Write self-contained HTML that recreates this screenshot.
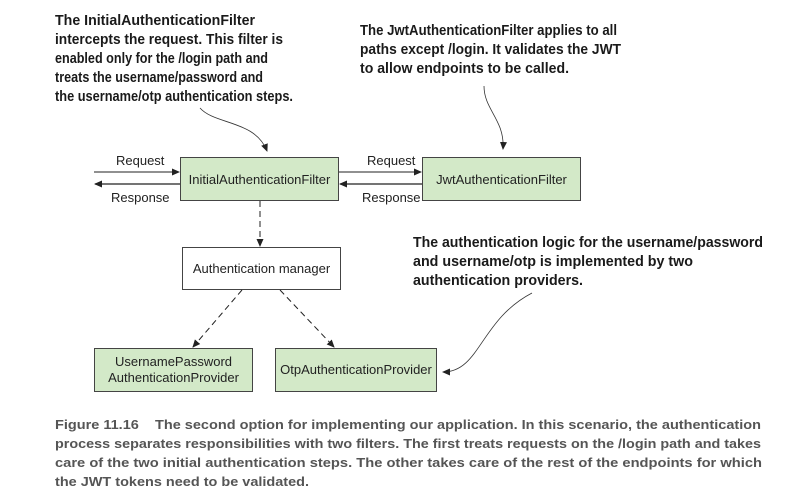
<!DOCTYPE html>
<html><head><meta charset="utf-8"><style>
html,body{margin:0;padding:0;background:#fff}
svg{display:block}
.a{font-family:"Liberation Sans Narrow","Liberation Sans",sans-serif;font-weight:bold;font-size:14.5px;fill:#1a1a1a}
.c{font-family:"Liberation Sans",sans-serif;font-weight:bold;font-size:13px;fill:#555}
.n{font-family:"Liberation Sans",sans-serif;font-size:13px;fill:#222}
</style></head><body>
<svg width="809" height="497" viewBox="0 0 809 497" xmlns="http://www.w3.org/2000/svg">
<defs><marker id="ah" markerWidth="8" markerHeight="8" refX="7" refY="4" orient="auto" markerUnits="userSpaceOnUse"><path d="M0,0.5 L8,4 L0,7.5z" fill="#222"/></marker></defs>
<text class="a" x="55" y="25" textLength="200" lengthAdjust="spacingAndGlyphs">The InitialAuthenticationFilter</text>
<text class="a" x="55" y="44" textLength="228" lengthAdjust="spacingAndGlyphs">intercepts the request. This filter is</text>
<text class="a" x="55" y="63" textLength="213" lengthAdjust="spacingAndGlyphs">enabled only for the /login path and</text>
<text class="a" x="55" y="82" textLength="208" lengthAdjust="spacingAndGlyphs">treats the username/password and</text>
<text class="a" x="55" y="101" textLength="238" lengthAdjust="spacingAndGlyphs">the username/otp authentication steps.</text>
<text class="a" x="360" y="35" textLength="257" lengthAdjust="spacingAndGlyphs">The JwtAuthenticationFilter applies to all</text>
<text class="a" x="360" y="54" textLength="261" lengthAdjust="spacingAndGlyphs">paths except /login. It validates the JWT</text>
<text class="a" x="360" y="73" textLength="209" lengthAdjust="spacingAndGlyphs">to allow endpoints to be called.</text>
<text class="a" x="413" y="247" textLength="350" lengthAdjust="spacingAndGlyphs">The authentication logic for the username/password</text>
<text class="a" x="413" y="266" textLength="280" lengthAdjust="spacingAndGlyphs">and username/otp is implemented by two</text>
<text class="a" x="413" y="285" textLength="170" lengthAdjust="spacingAndGlyphs">authentication providers.</text>
<path d="M200,108 C215,125 255,120 267,151" fill="none" stroke="#333" stroke-width="0.8" marker-end="url(#ah)"/>
<path d="M484,86 C484,110 505,120 503,149" fill="none" stroke="#333" stroke-width="0.8" marker-end="url(#ah)"/>
<path d="M532,293 C480,320 480,372 443,372" fill="none" stroke="#333" stroke-width="0.8" marker-end="url(#ah)"/>
<rect x="180.5" y="157.5" width="158" height="43" fill="#d3e9c8" stroke="#444"/>
<text class="n" x="259.5" y="184" text-anchor="middle">InitialAuthenticationFilter</text>
<rect x="422.5" y="157.5" width="158" height="43" fill="#d3e9c8" stroke="#444"/>
<text class="n" x="501.5" y="184" text-anchor="middle">JwtAuthenticationFilter</text>
<rect x="182.5" y="247.5" width="158" height="42" fill="#fff" stroke="#444"/>
<text class="n" x="261.5" y="273" text-anchor="middle">Authentication manager</text>
<rect x="94.5" y="348.5" width="158" height="43" fill="#d3e9c8" stroke="#444"/>
<text class="n" x="173.5" y="366" text-anchor="middle">UsernamePassword</text>
<text class="n" x="173.5" y="382" text-anchor="middle">AuthenticationProvider</text>
<rect x="275.5" y="348.5" width="161" height="43" fill="#d3e9c8" stroke="#444"/>
<text class="n" x="356" y="374" text-anchor="middle">OtpAuthenticationProvider</text>
<line x1="94" y1="172" x2="179" y2="172" stroke="#222" stroke-width="1" marker-end="url(#ah)"/>
<line x1="180" y1="184" x2="95" y2="184" stroke="#222" stroke-width="1.3" marker-end="url(#ah)"/>
<line x1="339" y1="172" x2="421" y2="172" stroke="#222" stroke-width="1" marker-end="url(#ah)"/>
<line x1="422" y1="184" x2="340" y2="184" stroke="#222" stroke-width="1.3" marker-end="url(#ah)"/>
<text class="n" x="116" y="165">Request</text>
<text class="n" x="111" y="202">Response</text>
<text class="n" x="367" y="165">Request</text>
<text class="n" x="362" y="202">Response</text>
<line x1="260" y1="201" x2="260" y2="246" stroke="#222" stroke-dasharray="6,4" marker-end="url(#ah)"/>
<line x1="242" y1="290" x2="193" y2="347" stroke="#222" stroke-dasharray="6,4" marker-end="url(#ah)"/>
<line x1="280" y1="290" x2="334" y2="347" stroke="#222" stroke-dasharray="6,4" marker-end="url(#ah)"/>
<text class="c" x="55" y="429" textLength="706" lengthAdjust="spacingAndGlyphs">Figure 11.16&#160;&#160;&#160; The second option for implementing our application. In this scenario, the authentication</text>
<text class="c" x="55" y="448" textLength="706" lengthAdjust="spacingAndGlyphs">process separates responsibilities with two filters. The first treats requests on the /login path and takes</text>
<text class="c" x="55" y="467" textLength="707" lengthAdjust="spacingAndGlyphs">care of the two initial authentication steps. The other takes care of the rest of the endpoints for which</text>
<text class="c" x="55" y="486" textLength="254" lengthAdjust="spacingAndGlyphs">the JWT tokens need to be validated.</text>
</svg>
</body></html>
